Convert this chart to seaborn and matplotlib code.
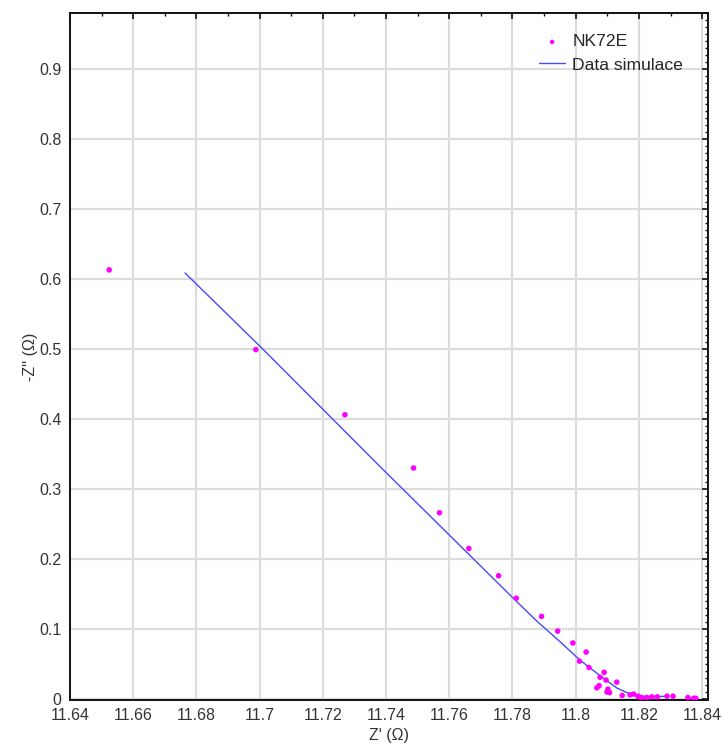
import numpy as np
import pandas as pd
import matplotlib
matplotlib.use("Agg")
import matplotlib.pyplot as plt
import seaborn as sns
from matplotlib.ticker import MultipleLocator, FuncFormatter

sns.set_theme(style="white")
plt.rcParams['font.family'] = ['Liberation Sans', 'DejaVu Sans']

# measured points (NK72E)
z_real = [11.6524, 11.6988, 11.7270, 11.7487, 11.7569, 11.7662, 11.7756, 11.7812,
          11.7892, 11.7943, 11.7991, 11.8033, 11.8012, 11.8042, 11.8090, 11.8077,
          11.8096, 11.8130, 11.8074, 11.8067, 11.8102, 11.8099, 11.8107, 11.8147,
          11.8183, 11.8199, 11.8172, 11.8197, 11.8209, 11.8225, 11.8241, 11.8258,
          11.8289, 11.8308, 11.8355, 11.8373, 11.8380]
z_imag = [0.613, 0.499, 0.406, 0.330, 0.266, 0.215, 0.176, 0.144,
          0.118, 0.097, 0.080, 0.067, 0.054, 0.045, 0.038, 0.031,
          0.027, 0.024, 0.019, 0.016, 0.014, 0.010, 0.009, 0.005,
          0.007, 0.003, 0.006, 0.004, 0.002, 0.002, 0.003, 0.003,
          0.004, 0.004, 0.002, 0.001, 0.001]

# simulated curve (Data simulace)
sim_real = [11.6764, 11.7012, 11.7381, 11.7800, 11.7880, 11.7950, 11.8012, 11.8077,
            11.8130, 11.8172, 11.8199, 11.8240, 11.8293]
sim_imag = [0.6086, 0.499, 0.332, 0.145, 0.110, 0.082, 0.0561, 0.0333,
            0.0157, 0.0071, 0.0040, 0.0035, 0.0038]

meas = pd.DataFrame({"x": z_real, "y": z_imag})
sim = pd.DataFrame({"x": sim_real, "y": sim_imag})

fig = plt.figure(figsize=(7.23, 7.47), dpi=100)
ax = fig.add_axes([0.0968, 0.0629, 0.979 - 0.0968, 0.9826 - 0.0629])

sns.scatterplot(data=meas, x="x", y="y", ax=ax, color="#ff00ff", s=16,
                edgecolor="none", label="NK72E", zorder=3)
sns.lineplot(data=sim, x="x", y="y", ax=ax, color="#4848ff", lw=1,
             sort=False, estimator=None, label="Data simulace", zorder=2)

ax.set_xlim(11.64, 11.8418)
ax.set_ylim(-0.0015, 0.98)

ax.xaxis.set_major_locator(MultipleLocator(0.02))
ax.xaxis.set_minor_locator(MultipleLocator(0.01))
ax.yaxis.set_major_locator(MultipleLocator(0.1))
ax.yaxis.set_minor_locator(MultipleLocator(0.01))
fmt = FuncFormatter(lambda v, p: ("%.2f" % v).rstrip("0").rstrip("."))
ax.xaxis.set_major_formatter(fmt)
ax.yaxis.set_major_formatter(fmt)

ax.grid(True, which="major", color="#dcdcdc", lw=1.6)
ax.set_axisbelow(True)
ax.tick_params(which="major", direction="in", length=4.5, width=1.2, color="#111111",
               top=True, right=True, labelsize=11.5, labelcolor="#333333")
ax.tick_params(which="minor", direction="in", length=2.5, width=1.0, color="#111111",
               top=True, right=True)
ax.tick_params(axis="x", which="major", pad=6)
ax.tick_params(axis="y", which="major", pad=6)
for s in ax.spines.values():
    s.set_color("#111111")
    s.set_linewidth(1.4)

ax.set_xlabel("Z' (\u03a9)", fontsize=11.5, color="#333333", labelpad=3)
ax.set_ylabel("-Z'' (\u03a9)", fontsize=11.5, color="#333333", labelpad=1)

ax.legend(loc="upper right", bbox_to_anchor=(0.986, 0.992), frameon=False,
          fontsize=12.6, handlelength=1.5, handletextpad=0.4, labelspacing=0.45,
          markerscale=0.8)

fig.savefig("out.png", dpi=100)
